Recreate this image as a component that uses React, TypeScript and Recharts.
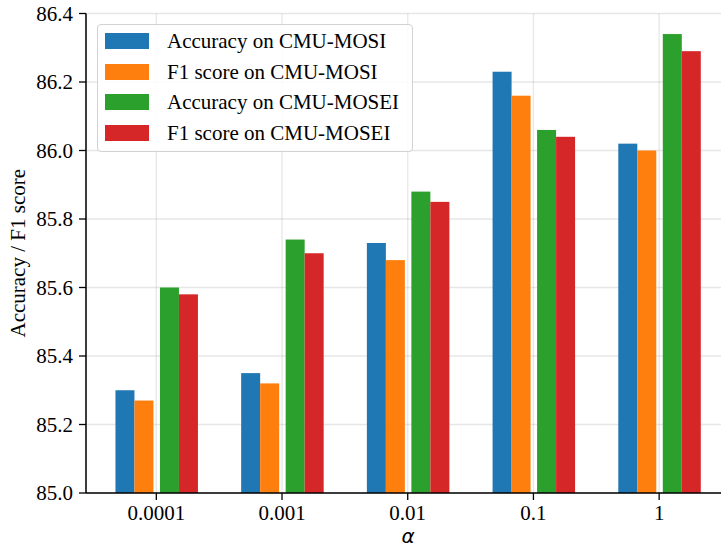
import React from 'react';
import { BarChart, Bar, XAxis, YAxis, CartesianGrid, Legend } from 'recharts';

// alpha values on the x axis
const alphas = ['0.0001', '0.001', '0.01', '0.1', '1'];

const accMosi = [85.3, 85.35, 85.73, 86.23, 86.02];
const f1Mosi = [85.27, 85.32, 85.68, 86.16, 86.0];
const accMosei = [85.6, 85.74, 85.88, 86.06, 86.34];
const f1Mosei = [85.58, 85.7, 85.85, 86.04, 86.29];

const yTicks = [85.0, 85.2, 85.4, 85.6, 85.8, 86.0, 86.2, 86.4];

const data = alphas.map((a, i) => ({
  alpha: a,
  accMosi: accMosi[i],
  f1Mosi: f1Mosi[i],
  accMosei: accMosei[i],
  f1Mosei: f1Mosei[i],
}));

// MOSI pair nudged left, MOSEI pair nudged right
const series = [
  { key: 'accMosi', name: 'Accuracy on CMU-MOSI', color: '#1f77b4', dx: -3 },
  { key: 'f1Mosi', name: 'F1 score on CMU-MOSI', color: '#ff7f0e', dx: -3 },
  { key: 'accMosei', name: 'Accuracy on CMU-MOSEI', color: '#2ca02c', dx: 3.5 },
  { key: 'f1Mosei', name: 'F1 score on CMU-MOSEI', color: '#d62728', dx: 3.5 },
];

const SERIF = '"Liberation Serif", "Times New Roman", serif';
const FONT_SIZE = 21;

const shifted = (dx: number) => (props: any) => (
  <rect x={props.x + dx} y={props.y} width={props.width} height={props.height} fill={props.fill} />
);

const LegendBox = () => (
  <div
    style={{
      width: 314,
      height: 126,
      border: '1.3px solid #d2d2d2',
      borderRadius: 4,
      background: 'rgba(255,255,255,0.85)',
      position: 'relative',
      fontFamily: SERIF,
      fontSize: FONT_SIZE,
      color: '#000',
    }}
  >
    {series.map((s, i) => (
      <div key={s.key} style={{ position: 'absolute', left: 0, top: 16 + i * 30.7, height: 0 }}>
        <div style={{ position: 'absolute', left: 7, top: -8, width: 44, height: 16, background: s.color }} />
        <div style={{ position: 'absolute', left: 69, top: -13, whiteSpace: 'nowrap', lineHeight: '26px' }}>{s.name}</div>
      </div>
    ))}
  </div>
);

const YLabel = ({ viewBox }: any) => {
  const x = 18;
  const y = viewBox.y + viewBox.height / 2;
  return (
    <text
      x={x}
      y={y}
      transform={`rotate(-90, ${x}, ${y})`}
      textAnchor="middle"
      dominantBaseline="central"
      fontFamily={SERIF}
      fontSize={FONT_SIZE}
      fill="#000"
    >
      Accuracy / F1 score
    </text>
  );
};

const XLabel = ({ viewBox }: any) => (
  <text
    x={viewBox.x + viewBox.width / 2}
    y={543}
    textAnchor="middle"
    fontFamily='"DejaVu Sans", sans-serif'
    fontStyle="italic"
    fontSize={20}
    fill="#000"
  >
    α
  </text>
);

export default function App() {
  return (
    <div style={{ position: 'absolute', left: 0, top: 0, width: 721, height: 548, overflow: 'hidden', background: '#fff' }}>
      <BarChart
        width={740}
        height={548}
        data={data}
        margin={{ top: 13.5, right: 10, bottom: 0, left: 8 }}
        barSize={19}
        barGap={0}
      >
        <XAxis
          dataKey="alpha"
          height={55}
          padding={{ left: 7.45, right: 8 }}
          tickSize={7}
          tickMargin={5}
          tick={{ fontFamily: SERIF, fontSize: FONT_SIZE, fill: '#000' }}
          tickLine={{ stroke: '#000', strokeWidth: 1.3 }}
          axisLine={{ stroke: '#000', strokeWidth: 1.5 }}
          label={<XLabel />}
        />
        <XAxis
          xAxisId="top"
          dataKey="alpha"
          orientation="top"
          height={0}
          tick={false}
          tickLine={false}
          axisLine={{ stroke: '#000', strokeWidth: 1.5 }}
        />
        <YAxis
          width={78}
          domain={[85, 86.4]}
          ticks={yTicks}
          allowDataOverflow
          tickFormatter={(v: number) => v.toFixed(1)}
          tickSize={7}
          tickMargin={6}
          tick={{ fontFamily: SERIF, fontSize: FONT_SIZE, fill: '#000' }}
          tickLine={{ stroke: '#000', strokeWidth: 1.3 }}
          axisLine={{ stroke: '#000', strokeWidth: 1.5 }}
          label={<YLabel />}
        />
        <Legend
          layout="horizontal"
          verticalAlign="middle"
          align="center"
          content={<LegendBox />}
          wrapperStyle={{ position: 'absolute', left: 97, top: 24, width: 316 }}
        />
        {series.map((s) => (
          <Bar
            key={s.key}
            dataKey={s.key}
            name={s.name}
            fill={s.color}
            isAnimationActive={false}
            shape={shifted(s.dx)}
          />
        ))}
        <CartesianGrid stroke="#b0b0b0" strokeOpacity={0.3} strokeWidth={1.3} />
      </BarChart>
    </div>
  );
}
